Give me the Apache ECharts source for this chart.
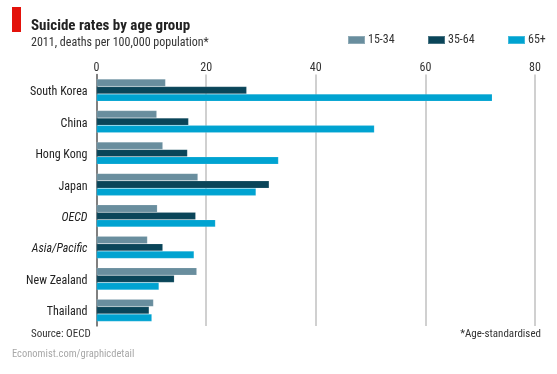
<!DOCTYPE html>
<html><head><meta charset="utf-8">
<script src="https://cdn.jsdelivr.net/npm/echarts@6/dist/echarts.min.js"></script>
<style>html,body{margin:0;padding:0;background:#fff}#c{width:557px;height:374px}</style>
</head><body><div id="c"></div>
<script>
const categories = ['South Korea','China','Hong Kong','Japan','OECD','Asia/Pacific','New Zealand','Thailand'];
const italicCats = ['OECD','Asia/Pacific'];
const seriesNames = ['15-34','35-64','65+'];
const age15to34 = [12.6, 11.0, 12.1, 18.5, 11.1, 9.3, 18.3, 10.4];
const age35to64 = [27.4, 16.8, 16.6, 31.5, 18.1, 12.1, 14.2, 9.6];
const age65plus = [72.2, 50.7, 33.2, 29.1, 21.7, 17.8, 11.4, 10.1];
const xTicks = [0, 20, 40, 60, 80];

const FONT = "'Roboto Condensed','DejaVu Sans Condensed',sans-serif";
const colors = ['#698e9e', '#0a4559', '#00a3d1'];
const chart = echarts.init(document.getElementById('c'), null, {renderer:'canvas'});
const mk = (name, data, i) => ({
  name, type:'bar', data, barWidth:7.4, barGap:'0%',
  itemStyle:{color:colors[i], borderColor:'rgba(255,255,255,0.25)', borderWidth:0.5}
});
const legendLefts = [347, 427, 507];
chart.setOption({
  animation:false,
  textStyle:{fontFamily:FONT},
  graphic:[
    {type:'rect', shape:{x:12,y:7,width:9,height:25}, style:{fill:'#e3120b'}},
    {type:'text', left:31, top:19, style:{text:'Suicide rates by age group', font:'bold 15px '+FONT, fill:'#222'}},
    {type:'text', left:31, top:37, style:{text:'2011, deaths per 100,000 population*', font:'12px '+FONT, fill:'#333'}},
    {type:'text', left:31, top:329, style:{text:'Source: OECD', font:'11px '+FONT, fill:'#333'}},
    {type:'text', right:16, top:329, style:{text:'*Age-standardised', font:'11px '+FONT, fill:'#333'}},
    {type:'text', left:12, top:349, style:{text:'Economist.com/graphicdetail', font:'10.5px '+FONT, fill:'#a8a8a8'}}
  ],
  legend: seriesNames.map((n,i)=>({
    data:[n], left:legendLefts[i], top:34, padding:0, itemWidth:17, itemHeight:8, itemGap:0,
    icon:'rect', textStyle:{fontFamily:FONT, fontSize:12, color:'#333', padding:[0,0,0,-2]}
  })),
  grid:{left:96.5, right:22, top:74.5, bottom:48},
  xAxis:{
    type:'value', position:'top', min:xTicks[0], max:xTicks[xTicks.length-1], interval:20,
    axisLine:{show:false}, axisTick:{show:false},
    axisLabel:{fontFamily:FONT, fontSize:12, color:'#333', margin:1},
    splitLine:{lineStyle:{color:'#c0c0c0', width:1.5}}
  },
  yAxis:{
    type:'category', inverse:true, data:categories,
    axisLine:{show:true, lineStyle:{color:'#666', width:1.5}},
    axisTick:{show:false},
    axisLabel:{
      fontFamily:FONT, fontSize:12, color:'#222', margin:9, padding:[4,0,0,0],
      formatter:v=> italicCats.includes(v) ? '{i|'+v+'}' : v,
      rich:{i:{fontStyle:'italic', fontFamily:FONT, fontSize:12, color:'#222'}}
    }
  },
  series:[mk(seriesNames[0], age15to34, 0), mk(seriesNames[1], age35to64, 1), mk(seriesNames[2], age65plus, 2)]
});
</script></body></html>
